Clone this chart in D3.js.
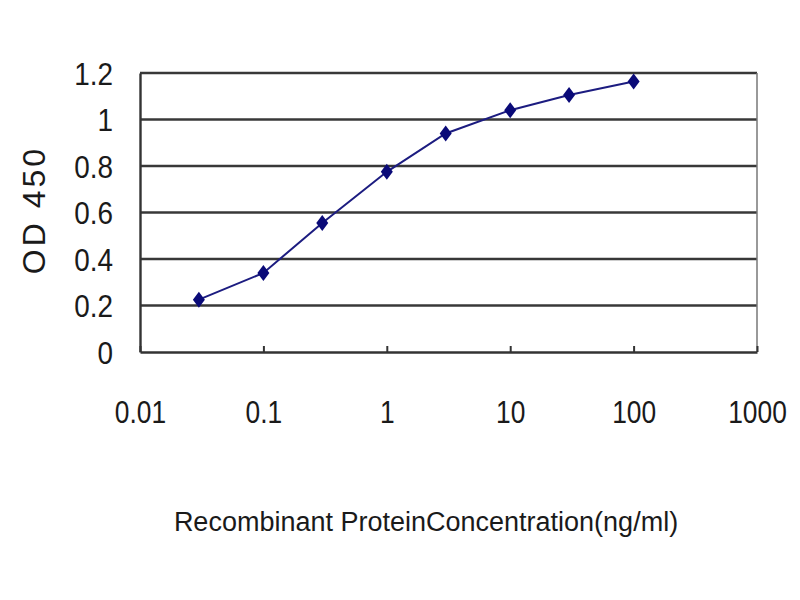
<!DOCTYPE html>
<html>
<head>
<meta charset="utf-8">
<script src="https://d3js.org/d3.v7.min.js"></script>
<style>
  body { margin: 0; background: #fff; }
  text { font-family: "Liberation Sans", Arial, sans-serif; }
</style>
</head>
<body>
<script>
// concentrations (ng/ml) and OD 450 readings
const concentrations = [0.03, 0.1, 0.3, 1, 3, 10, 30, 100];
const odValues = [0.225, 0.34, 0.555, 0.775, 0.94, 1.04, 1.105, 1.163];
const xTicks = [0.01, 0.1, 1, 10, 100, 1000];
const xTickLabels = ["0.01", "0.1", "1", "10", "100", "1000"];
const yTicks = [0, 0.2, 0.4, 0.6, 0.8, 1, 1.2];
const yTickLabels = ["0", "0.2", "0.4", "0.6", "0.8", "1", "1.2"];

const w = 800, h = 600;
const margin = { top: 73, right: 43, bottom: 248, left: 140 };
const innerWidth = w - margin.left - margin.right;
const innerHeight = h - margin.top - margin.bottom;

const svg = d3.select("body").append("svg")
    .attr("width", w)
    .attr("height", h);

const xScale = d3.scaleLog()
    .domain([0.01, 1000])
    .range([0, innerWidth]);
const yScale = d3.scaleLinear()
    .domain([0, 1.2])
    .range([innerHeight, 0]);

const g = svg.append("g")
    .attr("transform", `translate(${margin.left},${margin.top})`);

// gridlines
g.append("g")
    .selectAll("line")
    .data(yTicks.filter(d => d > 0))
    .enter()
    .append("line")
    .attr("x1", 0)
    .attr("x2", innerWidth)
    .attr("y1", d => yScale(d))
    .attr("y2", d => yScale(d))
    .attr("stroke", "#383838")
    .attr("stroke-width", 2.4);

// right frame line
g.append("line")
    .attr("x1", innerWidth).attr("x2", innerWidth)
    .attr("y1", 0).attr("y2", innerHeight)
    .attr("stroke", "#777")
    .attr("stroke-width", 1.5);

// y axis
const yAxis = d3.axisLeft(yScale)
    .tickValues(yTicks)
    .tickFormat((d, i) => yTickLabels[i])
    .tickSize(0)
    .tickPadding(0);
const yAxisG = g.append("g").call(yAxis);
yAxisG.select(".domain").attr("stroke", "#333").attr("stroke-width", 2.4);
yAxisG.selectAll("text")
    .attr("font-size", 31)
    .attr("fill", "#1a1a1a")
    .attr("x", 0)
    .attr("dy", "0.36em")
    .attr("transform", "translate(-27,0) scale(0.9,1)");

// x axis with inward ticks
const xAxis = d3.axisBottom(xScale)
    .tickValues(xTicks)
    .tickFormat((d, i) => xTickLabels[i])
    .tickSizeInner(-6)
    .tickSizeOuter(0)
    .tickPadding(0);
const xAxisG = g.append("g")
    .attr("transform", `translate(0,${innerHeight})`)
    .call(xAxis);
xAxisG.select(".domain").attr("stroke", "#333").attr("stroke-width", 2.4);
xAxisG.selectAll(".tick line").attr("stroke", "#333").attr("stroke-width", 2);
xAxisG.selectAll("text")
    .attr("font-size", 31)
    .attr("fill", "#1a1a1a")
    .attr("y", 0)
    .attr("dy", 0)
    .attr("transform", "translate(0,71) scale(0.85,1)");

// data line
const points = concentrations.map((c, i) => ({ x: c, y: odValues[i] }));
g.append("path")
    .datum(points)
    .attr("fill", "none")
    .attr("stroke", "#1c1c80")
    .attr("stroke-width", 2)
    .attr("d", d3.line().x(d => xScale(d.x)).y(d => yScale(d.y)));

// diamond markers
g.selectAll(".dot")
    .data(points)
    .enter()
    .append("path")
    .attr("class", "dot")
    .attr("transform", d => `translate(${xScale(d.x)},${yScale(d.y)})`)
    .attr("d", "M0,-8L6,0L0,8L-6,0Z")
    .attr("fill", "#0a0a78");

// axis titles
svg.append("text")
    .text("OD 450")
    .attr("transform", "translate(45,210) rotate(-90)")
    .attr("text-anchor", "middle")
    .attr("font-size", 32)
    .attr("letter-spacing", 3)
    .attr("fill", "#1a1a1a");

svg.append("text")
    .text("Recombinant ProteinConcentration(ng/ml)")
    .attr("x", 426)
    .attr("y", 531)
    .attr("text-anchor", "middle")
    .attr("font-size", 27)
    .attr("fill", "#1a1a1a");
</script>
</body>
</html>
